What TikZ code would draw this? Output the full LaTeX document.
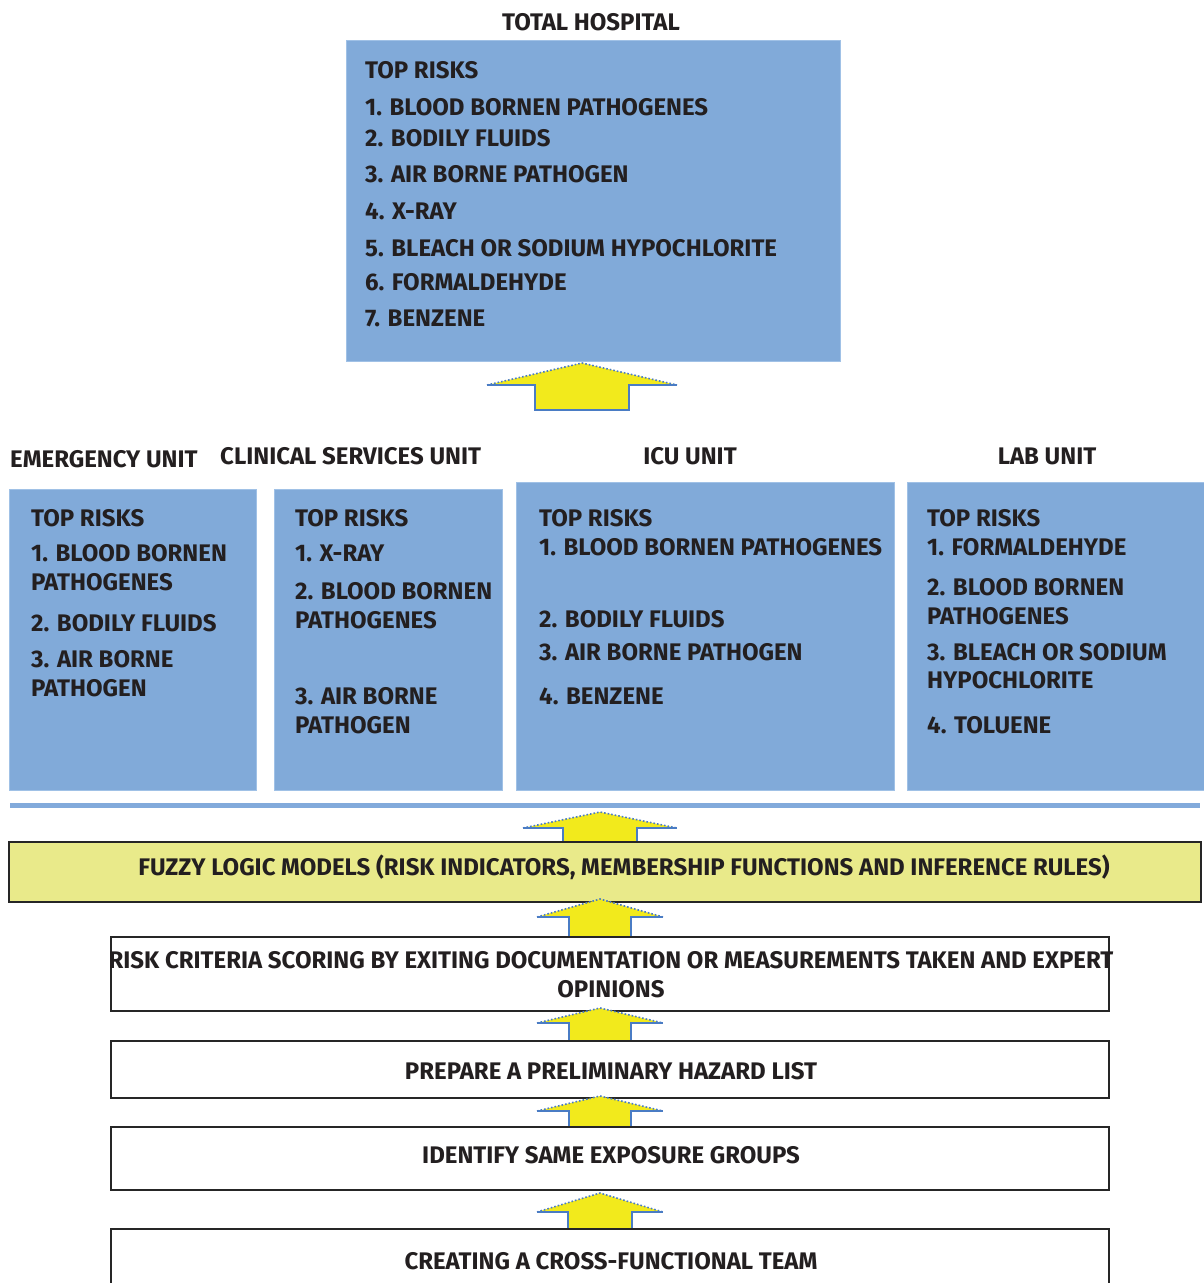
\documentclass[tikz,border=0pt]{standalone}
\usepackage{fontspec}
\newfontfamily\diafont{Fira Sans}
\usetikzlibrary{calc}
\definecolor{boxblue}{RGB}{129,170,217}
\definecolor{boxedge}{RGB}{160,193,230}
\definecolor{sepblue}{RGB}{130,170,219}
\definecolor{fuzzyfill}{RGB}{233,234,138}
\definecolor{arrowyellow}{RGB}{242,234,28}
\definecolor{arrowblue}{RGB}{74,124,196}
\definecolor{txt}{RGB}{35,31,32}
\newcommand{\blockarrow}[6]{% cx, tip y, shoulder y, bottom y, half width, stem half width
  \fill[arrowyellow] ({#1-#5},#3) -- (#1,#2) -- ({#1+#5},#3) -- cycle;
  \fill[arrowyellow] ({#1-#6},{#3-0.5}) rectangle ({#1+#6},#4);
  \draw[arrowblue, line width=1.4pt] ({#1-#5},#3) -- ({#1-#6},#3) -- ({#1-#6},#4) -- ({#1+#6},#4) -- ({#1+#6},#3) -- ({#1+#5},#3);
  \draw[arrowblue, line width=1.6pt, dotted] ({#1-#5},#3) -- (#1,#2) -- ({#1+#5},#3);
}
\tikzset{
  lbl/.style={anchor=base west, inner sep=0pt, text=txt, font=\diafont\fontsize{24}{28}\selectfont\bfseries},
  clbl/.style={anchor=base, inner sep=0pt, text=txt, font=\diafont\fontsize{24}{28}\selectfont\bfseries},
  bluebox/.style={fill=boxblue, draw=boxedge, line width=1pt},
  stepbox/.style={fill=white, draw=black!85, line width=2.2pt},
}
\begin{document}
\begin{tikzpicture}[x=1pt,y=-1pt]
\useasboundingbox[fill=white] (0,0) rectangle (1203,1283);
% Total hospital
\node[clbl] (ttl) at (591,30) {TOTAL HOSPITAL};
\draw[bluebox] (346,40) rectangle (840,361);
\node[lbl] (t0) at (365,78) {TOP RISKS};
\node[lbl] (t1) at (365,115) {1. BLOOD BORNEN PATHOGENES};
\node[lbl] (t2) at (365,146) {2. BODILY FLUIDS};
\node[lbl] (t3) at (365,182) {3. AIR BORNE PATHOGEN};
\node[lbl] (t4) at (365,219) {4. X-RAY};
\node[lbl] (t5) at (365,256) {5. BLEACH OR SODIUM HYPOCHLORITE};
\node[lbl] (t6) at (365,290) {6. FORMALDEHYDE};
\node[lbl] (t7) at (365,326) {7. BENZENE};
\blockarrow{582}{363}{385}{410}{95}{47}
% unit labels
\node[lbl] (le) at (10,467) {EMERGENCY UNIT};
\node[lbl] (lc) at (220,464) {CLINICAL SERVICES UNIT};
\node[clbl] (li) at (690,464) {ICU UNIT};
\node[clbl] (ll) at (1047,464) {LAB UNIT};
% unit boxes
\draw[bluebox] (9,489) rectangle (256,790);
\draw[bluebox] (274,489) rectangle (502,790);
\draw[bluebox] (516,482) rectangle (894,790);
\draw[bluebox] (907,482) rectangle (1205,790);
% emergency
\node[lbl] (e0) at (31,526) {TOP RISKS};
\node[lbl] (e1) at (31,561) {1. BLOOD BORNEN};
\node[lbl] (e1b) at (31,590) {PATHOGENES};
\node[lbl] (e2) at (31,631) {2. BODILY FLUIDS};
\node[lbl] (e3) at (31,667) {3. AIR BORNE};
\node[lbl] (e3b) at (31,696) {PATHOGEN};
% clinical
\node[lbl] (c0) at (295,526) {TOP RISKS};
\node[lbl] (c1) at (295,561) {1. X-RAY};
\node[lbl] (c2) at (295,599) {2. BLOOD BORNEN};
\node[lbl] (c2b) at (295,628) {PATHOGENES};
\node[lbl] (c3) at (295,704) {3. AIR BORNE};
\node[lbl] (c3b) at (295,733) {PATHOGEN};
% icu
\node[lbl] (i0) at (539,526) {TOP RISKS};
\node[lbl] (i1) at (539,555) {1. BLOOD BORNEN PATHOGENES};
\node[lbl] (i2) at (539,627) {2. BODILY FLUIDS};
\node[lbl] (i3) at (539,660) {3. AIR BORNE PATHOGEN};
\node[lbl] (i4) at (539,704) {4. BENZENE};
% lab
\node[lbl] (b0) at (927,526) {TOP RISKS};
\node[lbl] (b1) at (927,555) {1. FORMALDEHYDE};
\node[lbl] (b2) at (927,595) {2. BLOOD BORNEN};
\node[lbl] (b2b) at (927,624) {PATHOGENES};
\node[lbl] (b3) at (927,660) {3. BLEACH OR SODIUM};
\node[lbl] (b3b) at (927,688) {HYPOCHLORITE};
\node[lbl] (b4) at (927,733) {4. TOLUENE};
% separator
\draw[sepblue, line width=5pt] (10,805) -- (1200,805);
\blockarrow{600}{812}{828}{842}{77}{37}
% fuzzy box
\draw[fill=fuzzyfill, draw=black!85, line width=2.2pt] (9,842) rectangle (1201,902);
\node[clbl] (fz) at (624,875) {FUZZY LOGIC MODELS (RISK INDICATORS, MEMBERSHIP FUNCTIONS AND INFERENCE RULES)};
\blockarrow{600}{899}{917}{937}{63}{31}
% risk criteria
\draw[stepbox] (111,937) rectangle (1109,1011);
\node[clbl] (r1) at (611,968) {RISK CRITERIA SCORING BY EXITING DOCUMENTATION OR MEASUREMENTS TAKEN AND EXPERT};
\node[clbl] (r2) at (611,997) {OPINIONS};
\blockarrow{600}{1008}{1023}{1041}{63}{31}
\draw[stepbox] (111,1041) rectangle (1109,1098);
\node[clbl] (p1) at (611,1079) {PREPARE A PRELIMINARY HAZARD LIST};
\blockarrow{600}{1096}{1111}{1127}{63}{31}
\draw[stepbox] (111,1127) rectangle (1109,1190);
\node[clbl] (s1) at (611,1163) {IDENTIFY SAME EXPOSURE GROUPS};
\blockarrow{600}{1193}{1212}{1229}{63}{32}
\draw[stepbox] (111,1229) rectangle (1109,1300);
\node[clbl] (c1x) at (611,1269) {CREATING A CROSS-FUNCTIONAL TEAM};
\end{tikzpicture}
\end{document}
